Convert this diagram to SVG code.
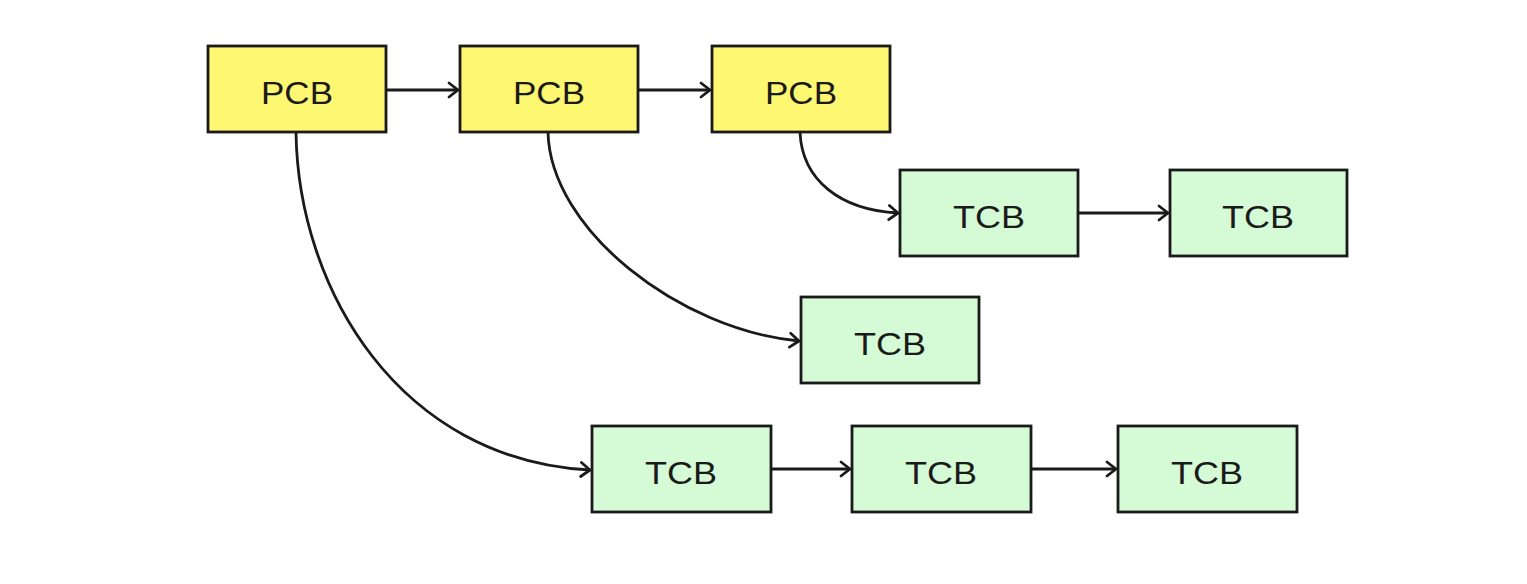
<svg xmlns="http://www.w3.org/2000/svg" width="1527" height="584" viewBox="0 0 1527 584">
<defs>
<marker id="arr" markerWidth="16" markerHeight="18" refX="12" refY="9" orient="auto" markerUnits="userSpaceOnUse">
<path d="M3,2 L12,9 L3,16" fill="none" stroke="#1a1a1a" stroke-width="2.8" stroke-linecap="round" stroke-linejoin="round"/>
</marker>
</defs>
<style>
.pcb{fill:#fdf772;stroke:#1a1a1a;stroke-width:2.8}
.tcb{fill:#d5fbd6;stroke:#1a1a1a;stroke-width:2.8}
.lbl{font-family:"Liberation Sans",Arial,sans-serif;font-size:31px;fill:#1a1a1a;text-anchor:middle}
.c{fill:none;stroke:#1a1a1a;stroke-width:2.8;marker-end:url(#arr)}
</style>
<rect width="1527" height="584" fill="#ffffff"/>
<g id="connectors">
<path class="c" d="M386,90 L458,90"/>
<path class="c" d="M638,90 L710,90"/>
<path class="c" d="M296,132 C298,290 400,460 590,470"/>
<path class="c" d="M548,132 C550,230 680,330 799,341"/>
<path class="c" d="M800,132 C802,180 840,210 898,213"/>
<path class="c" d="M1078,213 L1168,213"/>
<path class="c" d="M771,469 L850,469"/>
<path class="c" d="M1031,469 L1116,469"/>
</g>
<g id="pcb1"><rect class="pcb" x="208" y="46" width="178" height="86"/><text class="lbl" x="297" y="104" textLength="72" lengthAdjust="spacingAndGlyphs">PCB</text></g>
<g id="pcb2"><rect class="pcb" x="460" y="46" width="178" height="86"/><text class="lbl" x="549" y="104" textLength="72" lengthAdjust="spacingAndGlyphs">PCB</text></g>
<g id="pcb3"><rect class="pcb" x="712" y="46" width="178" height="86"/><text class="lbl" x="801" y="104" textLength="72" lengthAdjust="spacingAndGlyphs">PCB</text></g>
<g id="tcb1"><rect class="tcb" x="900" y="170" width="178" height="86"/><text class="lbl" x="989" y="228" textLength="72" lengthAdjust="spacingAndGlyphs">TCB</text></g>
<g id="tcb2"><rect class="tcb" x="1170" y="170" width="177" height="86"/><text class="lbl" x="1258" y="228" textLength="72" lengthAdjust="spacingAndGlyphs">TCB</text></g>
<g id="tcb3"><rect class="tcb" x="801" y="297" width="178" height="86"/><text class="lbl" x="890" y="355" textLength="72" lengthAdjust="spacingAndGlyphs">TCB</text></g>
<g id="tcb4"><rect class="tcb" x="592" y="426" width="179" height="86"/><text class="lbl" x="681" y="484" textLength="72" lengthAdjust="spacingAndGlyphs">TCB</text></g>
<g id="tcb5"><rect class="tcb" x="852" y="426" width="179" height="86"/><text class="lbl" x="941" y="484" textLength="72" lengthAdjust="spacingAndGlyphs">TCB</text></g>
<g id="tcb6"><rect class="tcb" x="1118" y="426" width="179" height="86"/><text class="lbl" x="1207" y="484" textLength="72" lengthAdjust="spacingAndGlyphs">TCB</text></g>
</svg>
